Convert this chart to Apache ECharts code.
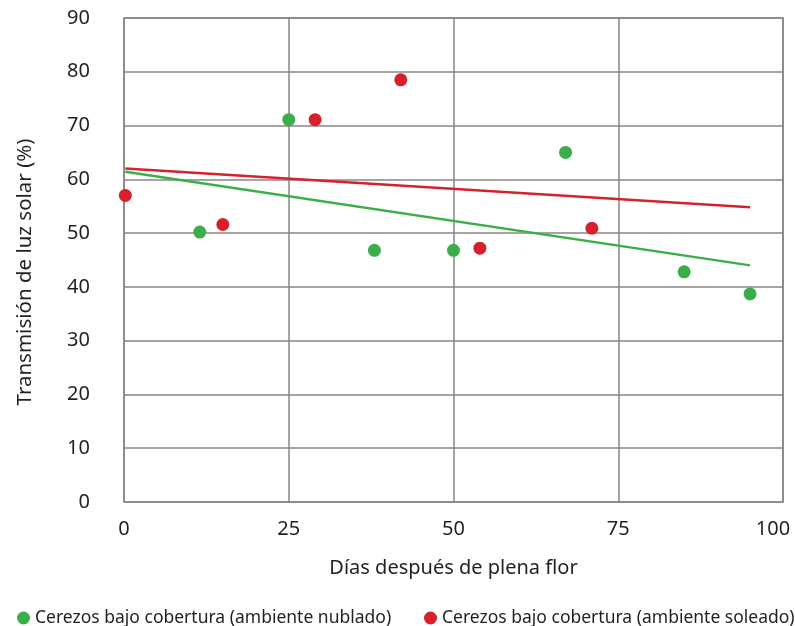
<!DOCTYPE html>
<html><head><meta charset="utf-8">
<script src="https://cdn.jsdelivr.net/npm/echarts@6/dist/echarts.min.js"></script>
<style>html,body{margin:0;padding:0;background:#fff}#c{width:795px;height:626px}</style>
</head><body><div id="c"></div>
<script>
const nubladoX = [11.5, 25, 38, 50, 67, 85, 95];
const nubladoY = [50.2, 71.1, 46.8, 46.8, 65, 42.8, 38.7];
const soleadoX = [0.2, 15, 29, 42, 54, 71];
const soleadoY = [57.0, 51.6, 71.1, 78.5, 47.2, 50.9];
const trendNubladoX = [0.2, 95];
const trendNubladoY = [61.4, 44.0];
const trendSoleadoX = [0.2, 95];
const trendSoleadoY = [62.0, 54.8];
const xTicks = [0, 25, 50, 75, 100];
const yTicks = [0, 10, 20, 30, 40, 50, 60, 70, 80, 90];
const nameNublado = 'Cerezos bajo cobertura (ambiente nublado)';
const nameSoleado = 'Cerezos bajo cobertura (ambiente soleado)';
const green = '#3cae49', red = '#d7202b', gridC = '#8a8481', txt = '#231f20';
const zip = (a, b) => a.map((v, i) => [v, b[i]]);
const font = '"Noto Sans", sans-serif';
const xMax = xTicks[xTicks.length-1];
const legendBase = {top: 604, itemWidth: 13, itemHeight: 13, textStyle: {fontSize: 17.5, color: txt, fontFamily: font}};
const chart = echarts.init(document.getElementById('c'));
chart.setOption({
  animation: false,
  textStyle: {fontFamily: font, color: txt},
  grid: {left: 124, right: 12, top: 18, bottom: 124, outerBoundsMode: 'none', containLabel: false, show: true, borderColor: gridC, borderWidth: 1.5},
  xAxis: {type: 'value', min: xTicks[0], max: xMax, interval: 25,
    name: 'Días después de plena flor', nameLocation: 'middle', nameGap: 56,
    nameTextStyle: {fontSize: 20, color: txt, fontFamily: font},
    axisLine: {show: false}, axisTick: {show: false},
    axisLabel: {fontSize: 20, color: txt, margin: 17, fontFamily: font,
      formatter: v => v === xMax ? '{r|' + v + '}' : String(v),
      rich: {r: {fontSize: 20, color: txt, fontFamily: font, padding: [0, 20, 0, 0]}}},
    splitLine: {show: true, lineStyle: {color: gridC, width: 1.5}}},
  yAxis: {type: 'value', min: yTicks[0], max: yTicks[yTicks.length-1], interval: 10,
    name: 'Transmisión de luz solar (%)', nameLocation: 'middle', nameGap: 88,
    nameTextStyle: {fontSize: 20.5, color: txt, fontFamily: font, padding: [0, 24, 0, 0]},
    axisLine: {show: false}, axisTick: {show: false},
    axisLabel: {fontSize: 20, color: txt, margin: 34, fontFamily: font},
    splitLine: {show: true, lineStyle: {color: gridC, width: 1.5}}},
  legend: [
    Object.assign({left: 12, data: [{name: nameNublado, icon: 'circle'}]}, legendBase),
    Object.assign({left: 419, data: [{name: nameSoleado, icon: 'circle'}]}, legendBase)
  ],
  series: [
    {name: nameNublado, type: 'scatter', symbolSize: 13, itemStyle: {color: green, opacity: 1}, data: zip(nubladoX, nubladoY), z: 3},
    {name: nameSoleado, type: 'scatter', symbolSize: 13, itemStyle: {color: red, opacity: 1}, data: zip(soleadoX, soleadoY), z: 3},
    {name: 'tn', type: 'line', showSymbol: false, symbol: 'none', lineStyle: {color: green, width: 2.5}, data: zip(trendNubladoX, trendNubladoY), z: 2},
    {name: 'ts', type: 'line', showSymbol: false, symbol: 'none', lineStyle: {color: red, width: 2.5}, data: zip(trendSoleadoX, trendSoleadoY), z: 2}
  ]
});
</script></body></html>
